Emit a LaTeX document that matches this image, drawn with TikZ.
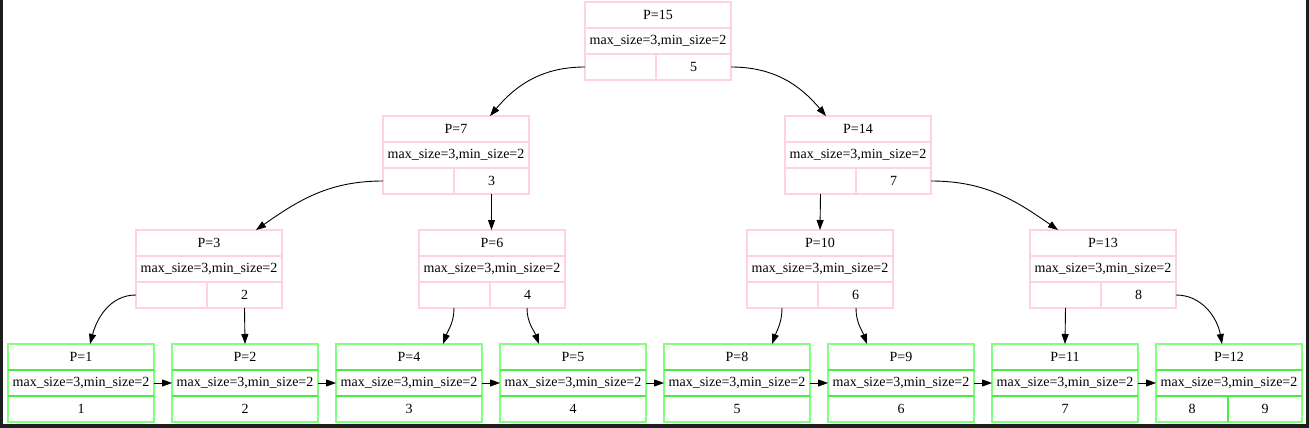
\documentclass[tikz,border=0pt]{standalone}
\usepackage{fontspec}
\setmainfont{Liberation Serif}
\usetikzlibrary{arrows.meta,calc}
\definecolor{pinkline}{HTML}{FFD3DC}
\definecolor{gouter}{HTML}{80FF80}
\definecolor{ginner}{HTML}{44EE44}
\definecolor{frame}{HTML}{1E1E1E}
\tikzset{
  inbox/.style={draw=pinkline, line width=1.6pt, minimum width=146pt, minimum height=78pt, inner sep=0pt, outer sep=0pt, anchor=north west},
  inline/.style={draw=pinkline, line width=1.6pt},
  lfbox/.style={draw=gouter, line width=1.6pt, minimum width=146pt, minimum height=78pt, inner sep=0pt, outer sep=0pt, anchor=north west},
  lfline/.style={draw=ginner, line width=1.6pt},
  txt/.style={inner sep=0pt, font=\fontsize{14}{16}\selectfont},
  edge/.style={draw=black, line width=0.9pt, -{Triangle[length=10pt,width=7pt]}},
}
% internal node: name, left, top, P, key
\newcommand{\inode}[5]{%
  \node[inbox] (#1) at (#2,#3) {};
  \draw[inline] ($(#1.north west)+(0,26)$) -- ($(#1.north east)+(0,26)$);
  \draw[inline] ($(#1.north west)+(0,52)$) -- ($(#1.north east)+(0,52)$);
  \draw[inline] ($(#1.north west)+(71,52)$) -- ($(#1.north west)+(71,78)$);
  \node[txt] (#1-p) at ($(#1.north west)+(73,13)$) {P=#4};
  \node[txt] (#1-m) at ($(#1.north west)+(73,39)$) {max\_size=3,min\_size=2};
  \node[txt] (#1-k) at ($(#1.north west)+(108.5,65)$) {#5};
  \coordinate (#1-l) at ($(#1.north west)+(0,65)$);
  \coordinate (#1-r) at ($(#1.north east)+(0,65)$);
}
% leaf node: name, left, top, P, value
\newcommand{\lnode}[5]{%
  \node[lfbox] (#1) at (#2,#3) {};
  \draw[lfline] ($(#1.north west)+(0,26)$) -- ($(#1.north east)+(0,26)$);
  \draw[lfline] ($(#1.north west)+(0,52)$) -- ($(#1.north east)+(0,52)$);
  \node[txt] (#1-p) at ($(#1.north west)+(73,13)$) {P=#4};
  \node[txt] (#1-m) at ($(#1.north west)+(73,39)$) {max\_size=3,min\_size=2};
  \coordinate (#1-ml) at ($(#1.north west)+(0,39)$);
  \coordinate (#1-mr) at ($(#1.north east)+(0,39)$);
}
\begin{document}
\begin{tikzpicture}[x=1pt,y=-1pt]
\useasboundingbox (0,0) rectangle (1309,428);
\fill[white] (0,0) rectangle (1309,428);
\fill[frame] (0,0) rectangle (3,428);
\fill[frame] (1306,0) rectangle (1309,428);
\fill[frame] (0,424) rectangle (1309,428);

\inode{n15}{585}{2}{15}{5}
\inode{n7}{383}{116}{7}{3}
\inode{n14}{785}{116}{14}{7}
\inode{n3}{136}{230}{3}{2}
\inode{n6}{419}{230}{6}{4}
\inode{n10}{747}{230}{10}{6}
\inode{n13}{1030}{230}{13}{8}

\lnode{n1}{8}{344}{1}{1}
\lnode{n2}{172}{344}{2}{2}
\lnode{n4}{336}{344}{4}{3}
\lnode{n5}{500}{344}{5}{4}
\lnode{n8}{664}{344}{8}{5}
\lnode{n9}{828}{344}{9}{6}
\lnode{n11}{992}{344}{11}{7}
\lnode{n12}{1156}{344}{12}{8}

% leaf bottom values
\foreach \n/\v in {n1/1,n2/2,n4/3,n5/4,n8/5,n9/6,n11/7}{
  \node[txt] (\n-v) at ($(\n.north west)+(73,65)$) {\v};
}
\draw[lfline] ($(n12.north west)+(72,52)$) -- ($(n12.north west)+(72,78)$);
\node[txt] (n12-v1) at ($(n12.north west)+(36,65)$) {8};
\node[txt] (n12-v2) at ($(n12.north west)+(109,65)$) {9};

% tree edges
\draw[edge] (n15-l) to[out=180,in=50] ($(n7.north west)+(107,0)$);
\draw[edge] (n15-r) to[out=0,in=130] ($(n14.north west)+(41,0)$);
\draw[edge] (n7-l) to[out=180,in=35] ($(n3.north west)+(120,0)$);
\draw[edge] ($(n7.north west)+(108.5,78)$) -- ($(n6.north west)+(72.5,0)$);
\draw[edge] ($(n14.north west)+(35.5,78)$) -- ($(n10.north west)+(73,0)$);
\draw[edge] (n14-r) to[out=0,in=145] ($(n13.north west)+(28,0)$);
\draw[edge] (n3-l) to[out=180,in=75] ($(n1.north west)+(82,0)$);
\draw[edge] ($(n3.north west)+(108.5,78)$) -- ($(n2.north west)+(73,0)$);
\draw[edge] ($(n6.north west)+(35,78)$) to[out=-90,in=70] ($(n4.north west)+(107,0)$);
\draw[edge] ($(n6.north west)+(108,78)$) to[out=-90,in=110] ($(n5.north west)+(39,0)$);
\draw[edge] ($(n10.north west)+(35,78)$) to[out=-90,in=70] ($(n8.north west)+(108,0)$);
\draw[edge] ($(n10.north west)+(109,78)$) to[out=-90,in=110] ($(n9.north west)+(39,0)$);
\draw[edge] ($(n13.north west)+(35.5,78)$) -- ($(n11.north west)+(73,0)$);
\draw[edge] (n13-r) to[out=0,in=100] ($(n12.north west)+(66,0)$);

% leaf chain
\draw[edge] (n1-mr) -- (n2-ml);
\draw[edge] (n2-mr) -- (n4-ml);
\draw[edge] (n4-mr) -- (n5-ml);
\draw[edge] (n5-mr) -- (n8-ml);
\draw[edge] (n8-mr) -- (n9-ml);
\draw[edge] (n9-mr) -- (n11-ml);
\draw[edge] (n11-mr) -- (n12-ml);
\end{tikzpicture}
\end{document}
